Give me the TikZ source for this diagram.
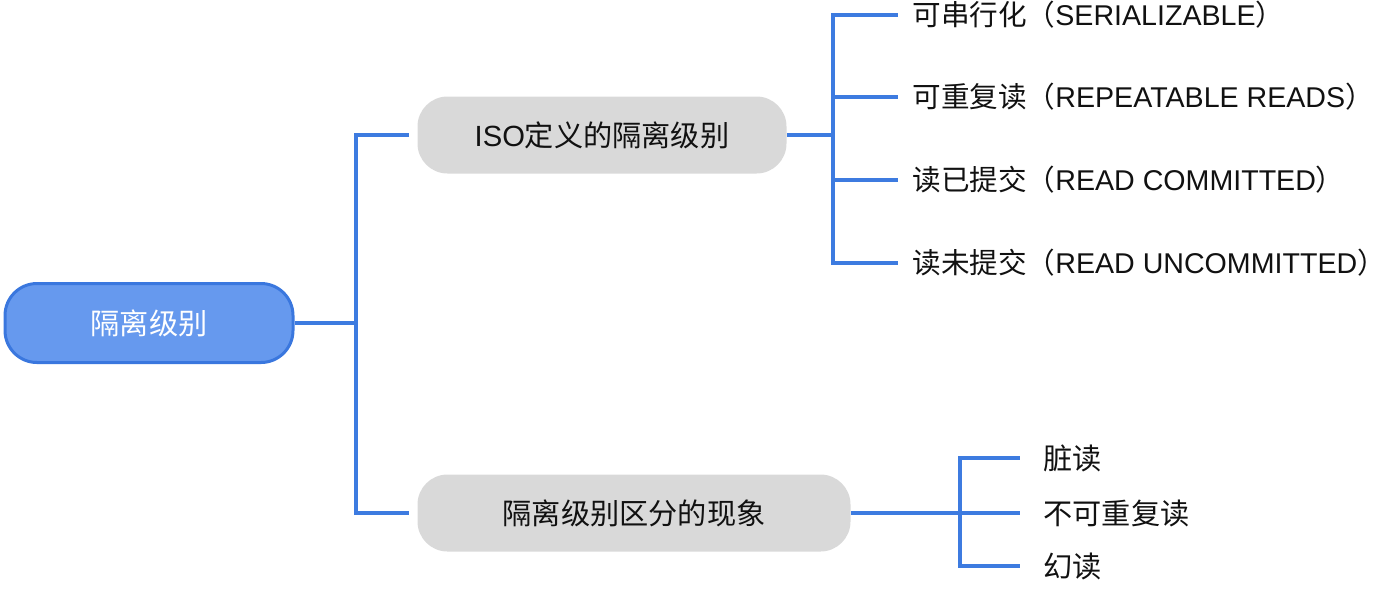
\documentclass[tikz,border=0pt]{standalone}
\usepackage{fontspec}
\setmainfont{Noto Sans CJK SC}
\newfontfamily\latinfont{Liberation Sans}
\newcommand\lat[1]{{\latinfont #1}}
\usepackage{tikz}
\definecolor{mapBlue}{HTML}{3D7BE0}
\definecolor{mapRootFill}{HTML}{6699EE}
\definecolor{mapRootLine}{HTML}{3A77DE}
\definecolor{mapGrey}{HTML}{D9D9D9}
\definecolor{mapText}{HTML}{111111}
\usetikzlibrary{positioning}

\begin{document}
\begin{tikzpicture}[x=0.5pt,y=-0.5pt,
    every node/.style={text=mapText, font=\fontsize{14.6}{17}\selectfont},
    link/.style={draw=mapBlue, line width=2pt},
    topic/.style={fill=mapGrey, rounded corners=15pt, minimum height=38.5pt},
    leaf/.style={anchor=west, inner sep=0pt}]
  \useasboundingbox (0,0) rectangle (1391,591);
  \node[fill=mapRootFill, draw=mapRootLine, line width=1.5pt, rounded corners=16pt, minimum width=144pt, minimum height=39.5pt, text=white] (root) at (149,323) {隔离级别};
  \node[topic, minimum width=184.5pt] (iso) at (602,135) {\lat{ISO}定义的隔离级别};
  \node[topic, minimum width=216.5pt] (phen) at (634,513) {隔离级别区分的现象};
  \coordinate (rootFork) at (356,323);
  \draw[link] (root.east) -- (rootFork);
  \draw[link, shorten <=4pt, shorten >=4pt] (iso.west) -| (rootFork) |- (phen.west);
  % ISO levels
  \coordinate (isoFork) at (833,135);
  \draw[link] (iso.east) -- (isoFork);
  \foreach \name/\ypos/\txt in {ser/15/可串行化（\lat{SERIALIZABLE}）, rr/97/可重复读（\lat{REPEATABLE READS}）, rc/180/读已提交（\lat{READ COMMITTED}）, ru/263/读未提交（\lat{READ UNCOMMITTED}）} {
    \node[leaf, font=\fontsize{14.3}{17}\selectfont] (\name) at (912,\ypos) {\txt};
    \draw[link] (isoFork) |- ([xshift=-7pt]\name.west);
  }
  % phenomena
  \coordinate (phenFork) at (960,513);
  \draw[link] (phen.east) -- (phenFork);
  \foreach \name/\ypos/\txt in {dirty/458/脏读, nonrep/513/不可重复读, phantom/566/幻读} {
    \node[leaf] (\name) at (1043,\ypos) {\txt};
    \draw[link] (phenFork) |- ([xshift=-11.5pt]\name.west);
  }
\end{tikzpicture}
\end{document}
